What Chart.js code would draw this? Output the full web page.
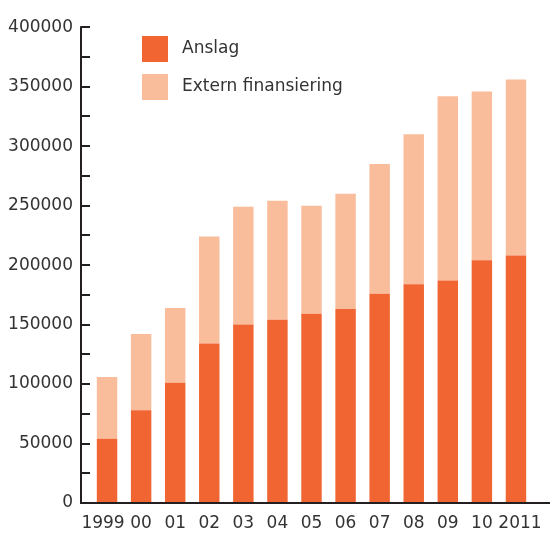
<!DOCTYPE html>
<html>
<head>
<meta charset="utf-8">
<script src="https://cdn.jsdelivr.net/npm/chart.js@4.4.1/dist/chart.umd.min.js"></script>
<style>
  html, body { margin: 0; padding: 0; background: #fff; }
  #wrap { width: 550px; height: 533px; }
</style>
</head>
<body>
<div id="wrap"><canvas id="grafico" width="550" height="533"></canvas></div>
<script>
var aar = ['1999', '00', '01', '02', '03', '04', '05', '06', '07', '08', '09', '10', '2011'];
var anslag = [54000, 78000, 101000, 134000, 150000, 154000, 159000, 163000, 176000, 184000, 187000, 204000, 208000];
var extern = [52000, 64000, 63000, 90000, 99000, 100000, 91000, 97000, 109000, 126000, 155000, 142000, 148000];
var yTicks = [0, 50000, 100000, 150000, 200000, 250000, 300000, 350000, 400000];

var tekst = '#333333';
Chart.defaults.font.family = 'DejaVu Sans';
Chart.defaults.font.size = 17;
Chart.defaults.color = tekst;

// akselinjer og små streker inn mot plottet
var akser = {
  id: 'akser',
  afterDatasetsDraw: function(chart) {
    var ctx = chart.ctx, a = chart.chartArea, y = chart.scales.y;
    var ax = a.left - 9;
    ctx.save();
    ctx.strokeStyle = '#231f20';
    ctx.lineWidth = 2;
    ctx.beginPath();
    ctx.moveTo(ax, a.top - 1);
    ctx.lineTo(ax, a.bottom + 1);
    for (var v = 0; v <= 400000; v += 25000) {
      var py = Math.round(y.getPixelForValue(v));
      ctx.moveTo(ax, py);
      ctx.lineTo(a.left, py);
    }
    ctx.moveTo(ax - 1, a.bottom);
    ctx.lineTo(chart.width, a.bottom);
    ctx.stroke();
    ctx.restore();
  }
};

// årstall under søylene; første og siste skyves litt ut så de ikke kolliderer
var aarstall = {
  id: 'aarstall',
  afterDraw: function(chart) {
    var ctx = chart.ctx, a = chart.chartArea, x = chart.scales.x;
    ctx.save();
    ctx.font = '17px "DejaVu Sans"';
    ctx.fillStyle = tekst;
    ctx.textAlign = 'center';
    ctx.textBaseline = 'middle';
    aar.forEach(function(lbl, i) {
      var dx = 0;
      if (i === 0) dx = -4;
      if (i === aar.length - 1) dx = 4;
      ctx.fillText(lbl, x.getPixelForValue(i) + dx, a.bottom + 21);
    });
    ctx.restore();
  }
};

// forklaring oppe til venstre i plottet
var forklaring = {
  id: 'forklaring',
  afterDraw: function(chart) {
    var ctx = chart.ctx, a = chart.chartArea;
    ctx.save();
    ctx.font = '17px "DejaVu Sans"';
    ctx.textBaseline = 'middle';
    chart.data.datasets.forEach(function(ds, i) {
      var bx = a.left + 52, by = 36 + i * 38;
      ctx.fillStyle = ds.backgroundColor;
      ctx.fillRect(bx, by, 26, 26);
      ctx.fillStyle = tekst;
      ctx.fillText(ds.label, bx + 40, by + 13);
    });
    ctx.restore();
  }
};

new Chart(document.getElementById('grafico').getContext('2d'), {
  type: 'bar',
  data: {
    labels: aar,
    datasets: [
      { label: 'Anslag', data: anslag, backgroundColor: '#f16532', borderWidth: 0 },
      { label: 'Extern finansiering', data: extern, backgroundColor: '#f9bd9b', borderWidth: 0 }
    ]
  },
  options: {
    responsive: false,
    animation: false,
    layout: { padding: { top: 24, right: 17, left: 0, bottom: 0 } },
    datasets: { bar: { categoryPercentage: 1, barPercentage: 0.6 } },
    plugins: { legend: { display: false }, tooltip: { enabled: false } },
    scales: {
      x: {
        stacked: true,
        grid: { display: false, drawTicks: false },
        border: { display: false },
        ticks: { display: false },
        afterFit: function(s) { s.height = 30; }
      },
      y: {
        stacked: true,
        min: 0,
        max: 400000,
        afterBuildTicks: function(s) { s.ticks = yTicks.map(function(v) { return { value: v }; }); },
        grid: { display: false, drawTicks: false },
        border: { display: false },
        ticks: { padding: 17, callback: function(v) { return String(v); } },
        afterFit: function(s) { s.width = 90; }
      }
    }
  },
  plugins: [akser, aarstall, forklaring]
});
</script>
</body>
</html>
